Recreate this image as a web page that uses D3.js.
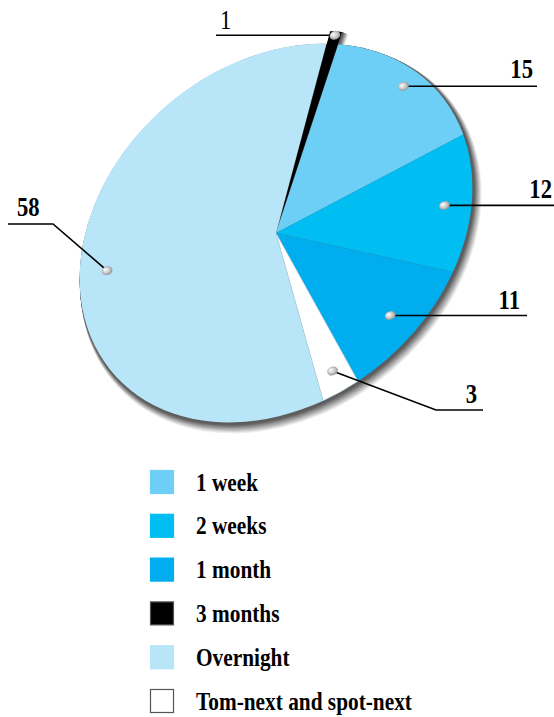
<!DOCTYPE html>
<html>
<head>
<meta charset="utf-8">
<script src="https://cdn.jsdelivr.net/npm/d3@7"></script>
<style>
  html, body { margin: 0; padding: 0; background: #fff; }
  svg { display: block; }
</style>
</head>
<body>
<svg id="chart" width="554" height="717"></svg>
<script>
// ---- data ----
const categories = ["1 week", "2 weeks", "1 month", "3 months", "Overnight", "Tom-next and spot-next"];
const values = [15, 12, 11, 1, 58, 3];
const colors = ["#6dcff6", "#00bef2", "#00aeef", "#000000", "#b9e5f9", "#ffffff"];
const pieOrder = ["Overnight", "3 months", "1 week", "2 weeks", "1 month", "Tom-next and spot-next"];
const sliceLabels = ["15", "12", "11", "1", "58", "3"];

// ---- layout ----
const W = 554, H = 717;
const cx = 276, cy = 233;          // pie centre
const A = 215, B = 168;            // ellipse semi-axes
const ROT = -40.7;                 // ellipse rotation (deg)
const R0 = 100;                    // circle radius before projection
const START = 200 * Math.PI / 180; // start angle of the first slice
const EXPLODE = 0.065 * R0;        // pull-out of "3 months"

const labelLayout = {
  "1 week":   { r: 0.91, path: [[537, null]], text: [533, -8, "end", "bold"] },
  "2 weeks":  { r: 0.86, path: [[554, null]], text: [552, -7, "end", "bold"] },
  "1 month":  { r: 0.83, path: [[527, null]], text: [520, -7, "end", "bold"] },
  "3 months": { r: 0.98, path: [[216, null]], text: [220, -6, "start", "normal"] },
  "Overnight":{ r: 0.86, path: [[53, 224], [8, 224]], text: [17, 216, "start", "bold", true] },
  "Tom-next and spot-next": { r: 0.87, path: [[436, 410], [483, 410]], text: [477, 403, "end", "bold", true] }
};

const svg = d3.select("#chart");
svg.append("rect").attr("width", W).attr("height", H).attr("fill", "#fff");

const defs = svg.append("defs");
const grad = defs.append("radialGradient").attr("id", "bead")
  .attr("cx", "50%").attr("cy", "50%").attr("r", "60%").attr("fx", "35%").attr("fy", "30%");
grad.append("stop").attr("offset", "0%").attr("stop-color", "#ffffff");
grad.append("stop").attr("offset", "50%").attr("stop-color", "#cfcfcf");
grad.append("stop").attr("offset", "100%").attr("stop-color", "#808080");

const color = d3.scaleOrdinal().domain(categories).range(colors);
const valueOf = new Map(categories.map((c, i) => [c, values[i]]));
const labelOf = new Map(categories.map((c, i) => [c, sliceLabels[i]]));

const pieData = pieOrder.map(c => ({ cat: c, value: valueOf.get(c) }));
const arcs = d3.pie().sort(null).value(d => d.value)
  .startAngle(START).endAngle(START + 2 * Math.PI)(pieData);
const arc = d3.arc().innerRadius(0).outerRadius(R0);

const phi = ROT * Math.PI / 180;
function toScreen(x, y) {
  const sx = x * A / R0, sy = y * B / R0;
  return [cx + sx * Math.cos(phi) - sy * Math.sin(phi),
          cy + sx * Math.sin(phi) + sy * Math.cos(phi)];
}
function proj(dx = 0, dy = 0, s = 1) {
  return `translate(${cx + dx},${cy + dy}) rotate(${ROT}) scale(${A / R0 * s},${B / R0 * s})`;
}
function explodeOffset(d) {
  if (d.data.cat !== "3 months") return [0, 0];
  const m = (d.startAngle + d.endAngle) / 2;
  return [EXPLODE * Math.sin(m), -EXPLODE * Math.cos(m)];
}

// ---- shadow / extrusion ----
const N = 14;
const shadeColor = t => t < 0.25 ? "#5e5e5e" : d3.interpolateRgb("#5e5e5e", "#f4f4f4")((t - 0.25) / 0.75);
const shadowG = svg.append("g");
for (let i = N; i >= 1; i--) {
  const t = i / N;
  const g = shadowG.append("g").attr("transform", proj(5 * t, 7 * t, 1 + 0.022 * t));
  g.append("circle").attr("r", R0).attr("fill", shadeColor(t));
  const exp = arcs.find(d => d.data.cat === "3 months");
  const off = explodeOffset(exp);
  g.append("path").attr("d", arc(exp))
    .attr("transform", `translate(${off[0]},${off[1]})`)
    .attr("fill", shadeColor(t));
}

// ---- slices ----
const pieG = svg.append("g").attr("transform", proj());
pieG.selectAll("path.slice")
  .data(arcs.slice().sort((p, q) => (p.data.cat === "3 months") - (q.data.cat === "3 months")))
  .join("path")
  .attr("class", "slice")
  .attr("d", arc)
  .attr("transform", d => { const o = explodeOffset(d); return `translate(${o[0]},${o[1]})`; })
  .attr("fill", d => color(d.data.cat))
  .attr("stroke", d => d.data.cat === "Tom-next and spot-next" ? "#9fc8da" : "none")
  .attr("stroke-width", 0.5)
  .attr("vector-effect", "non-scaling-stroke");

// ---- leader lines and labels ----
const labG = svg.append("g");
arcs.forEach(d => {
  const L = labelLayout[d.data.cat];
  const m = (d.startAngle + d.endAngle) / 2;
  const o = explodeOffset(d);
  const r = L.r * R0;
  const p = toScreen(r * Math.sin(m) + o[0], -r * Math.cos(m) + o[1]);
  const pts = [p].concat(L.path.map(q => [q[0], q[1] == null ? p[1] : q[1]]));
  labG.append("path")
    .attr("d", d3.line()(pts))
    .attr("fill", "none").attr("stroke", "#000").attr("stroke-width", 1.6);
  labG.append("ellipse")
    .attr("cx", p[0]).attr("cy", p[1]).attr("rx", 5.5).attr("ry", 4.3)
    .attr("transform", `rotate(-20,${p[0]},${p[1]})`)
    .attr("fill", "url(#bead)");
  const ty = L.text[4] ? L.text[1] : p[1] + L.text[1];
  labG.append("g")
    .attr("transform", `translate(${L.text[0]},${ty}) scale(0.84,1)`)
    .append("text")
    .attr("text-anchor", L.text[2])
    .attr("font-family", "'Liberation Serif', 'DejaVu Serif', serif")
    .attr("font-weight", L.text[3])
    .attr("font-size", 27)
    .attr("fill", "#000")
    .text(labelOf.get(d.data.cat));
});

// ---- legend ----
const legY = d3.scalePoint().domain(categories).range([470, 689]);
const leg = svg.append("g").selectAll("g").data(categories).join("g")
  .attr("transform", c => `translate(150,${legY(c)})`);
leg.append("rect")
  .attr("x", 0.5).attr("y", 0.5).attr("width", 23).attr("height", 23)
  .attr("fill", c => color(c))
  .attr("stroke", c => c === "Tom-next and spot-next" || c === "3 months" ? "#555" : color(c))
  .attr("stroke-width", 1.2);
leg.append("g")
  .attr("transform", "translate(46,20.5) scale(0.82,1)")
  .append("text")
  .attr("font-family", "'Liberation Serif', 'DejaVu Serif', serif")
  .attr("font-weight", "bold")
  .attr("font-size", 26)
  .attr("fill", "#000")
  .text(c => c);
</script>
</body>
</html>
